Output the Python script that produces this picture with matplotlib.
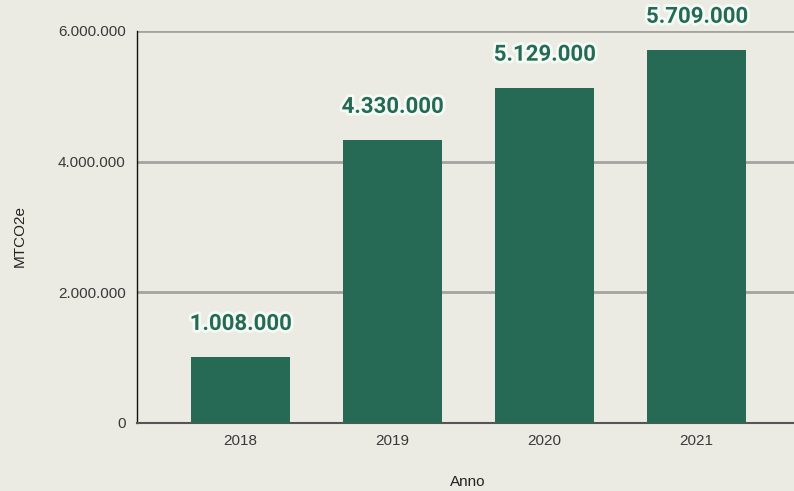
import matplotlib
matplotlib.use("Agg")
import matplotlib.pyplot as plt
import matplotlib.patheffects as pe
from matplotlib.ticker import FuncFormatter

anni = ["2018", "2019", "2020", "2021"]
emissioni = [1008000, 4330000, 5129000, 5709000]
y_ticks = [0, 2000000, 4000000, 6000000]

bg = "#ebebe3"
verde = "#266a55"


def fmt_it(v, pos=None):
    # separatore delle migliaia all'italiana
    return f"{int(v):,}".replace(",", ".")


fig = plt.figure(figsize=(7.94, 4.91), dpi=100, facecolor=bg)
ax = fig.add_axes([0.1725, 0.1385, 0.8275, 0.7984], facecolor=bg)

x = list(range(len(anni)))
ax.bar(x, emissioni, width=0.65, color=verde, zorder=3)

for xi, v in zip(x, emissioni):
    ax.annotate(fmt_it(v), (xi, v), xytext=(0, 16), textcoords="offset points",
                ha="center", va="bottom", fontsize=16, family="Roboto",
                fontweight="semibold", color=verde, zorder=4,
                path_effects=[pe.withStroke(linewidth=4, foreground="#f4fbf6")])

ax.set_xlim(-0.68, 3.64)
ax.set_ylim(0, 6000000)
ax.set_yticks(y_ticks)
ax.yaxis.set_major_formatter(FuncFormatter(fmt_it))
ax.set_xticks(x)
ax.set_xticklabels(anni)

ax.grid(axis="y", color="#a3a3a0", linewidth=2, zorder=0)
ax.tick_params(axis="both", length=0, labelsize=11, colors="#3a3a3a", pad=8)
for lab in ax.get_xticklabels() + ax.get_yticklabels():
    lab.set_family("Liberation Sans")

for s in ["top", "right"]:
    ax.spines[s].set_visible(False)
ax.spines["left"].set_color("#111111")
ax.spines["left"].set_linewidth(1)
ax.spines["bottom"].set_color("#555555")
ax.spines["bottom"].set_linewidth(1.5)

ax.set_xlabel("Anno", family="Liberation Sans", fontsize=11, color="#222222")
ax.set_ylabel("MTCO2e", family="Liberation Sans", fontsize=11, color="#222222")
ax.xaxis.set_label_coords(0.504, -0.133)
ax.yaxis.set_label_coords(-0.167, 0.477)

fig.savefig("out.png", dpi=100, facecolor=bg)
